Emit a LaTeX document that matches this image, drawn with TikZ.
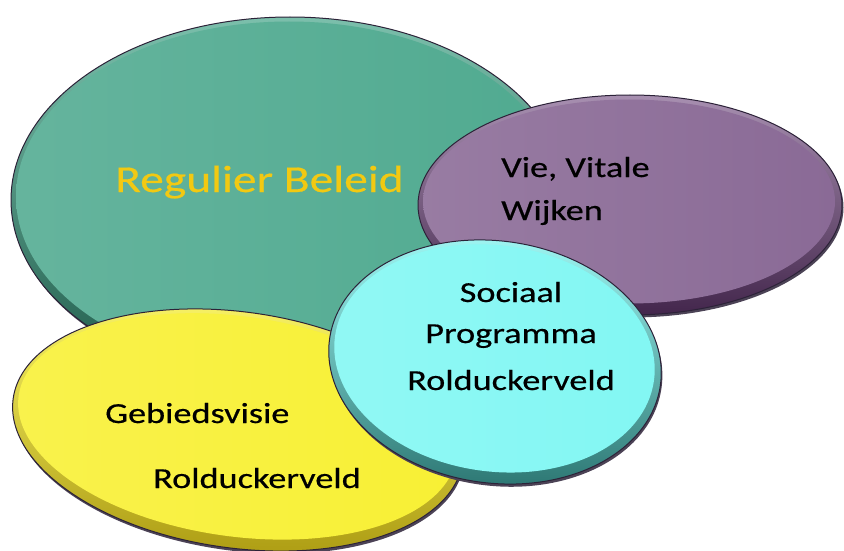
\documentclass[tikz,border=0pt]{standalone}
\usepackage{fontspec}
\setmainfont{Carlito}[FakeStretch=1.25,FakeBold=0.5]
\definecolor{edgeDark}{HTML}{2C2238}
\definecolor{tealFace}{HTML}{50AA90}
\definecolor{tealRim}{HTML}{1E5B4A}
\definecolor{purpleFace}{HTML}{8A6A96}
\definecolor{purpleRim}{HTML}{43264C}
\definecolor{yellowFace}{HTML}{F8F034}
\definecolor{yellowRim}{HTML}{B0A016}
\definecolor{cyanFace}{HTML}{82F7F3}
\definecolor{cyanRim}{HTML}{2F7A76}
\definecolor{goldText}{HTML}{F2C912}
\newcommand\bevelEllipse[7]{%
  \begin{scope}[rotate around={#5:(#1,#2)}]
    \fill[edgeDark!85] ({#1+1.5},{#2+2.5}) ellipse [x radius=#3pt, y radius=#4pt];
    \shade[top color=#6!75!white, bottom color=#7]
      (#1,#2) ellipse [x radius=#3pt, y radius=#4pt];
    \draw[line width=1pt, draw=edgeDark]
      (#1,#2) ellipse [x radius=#3pt, y radius=#4pt];
    \shade[left color=#6!88!white, right color=#6]
      ({#1-1},{#2-3.5}) ellipse [x radius={#3pt-6pt}, y radius={#4pt-8pt}];
  \end{scope}}
\tikzset{
  lbl/.style={inner sep=0pt, font=\fontsize{29}{34}\selectfont, text=black},
  biglbl/.style={inner sep=0pt, font=\fontsize{38}{44}\selectfont, text=goldText}
}
\begin{document}
\begin{tikzpicture}[x=1pt,y=-1pt]
  \useasboundingbox (0,0) rectangle (844,551);
  % ellipses, back to front
  \bevelEllipse{290}{200}{279}{183}{0}{tealFace}{tealRim}
  \bevelEllipse{630}{205}{212}{110}{0}{purpleFace}{purpleRim}
  \bevelEllipse{238}{430}{227}{118}{-8}{yellowFace}{yellowRim}
  \bevelEllipse{495}{362}{167}{121}{-8}{cyanFace}{cyanRim}
  % texts
  \node[biglbl, anchor=base west] (reg) at (115,192) {Regulier Beleid};
  \node[lbl, anchor=base west] (vie) at (501,177) {Vie, Vitale};
  \node[lbl, anchor=base west] (wij) at (501,220) {Wijken};
  \node[lbl, anchor=base] (soc) at (511,302) {Sociaal};
  \node[lbl, anchor=base] (prog) at (511,343) {Programma};
  \node[lbl, anchor=base] (rolc) at (511,390) {Rolduckerveld};
  \node[lbl, anchor=base west] (geb) at (105,423) {Gebiedsvisie};
  \node[lbl, anchor=base west] (roly) at (153,488) {Rolduckerveld};
\end{tikzpicture}
\end{document}
